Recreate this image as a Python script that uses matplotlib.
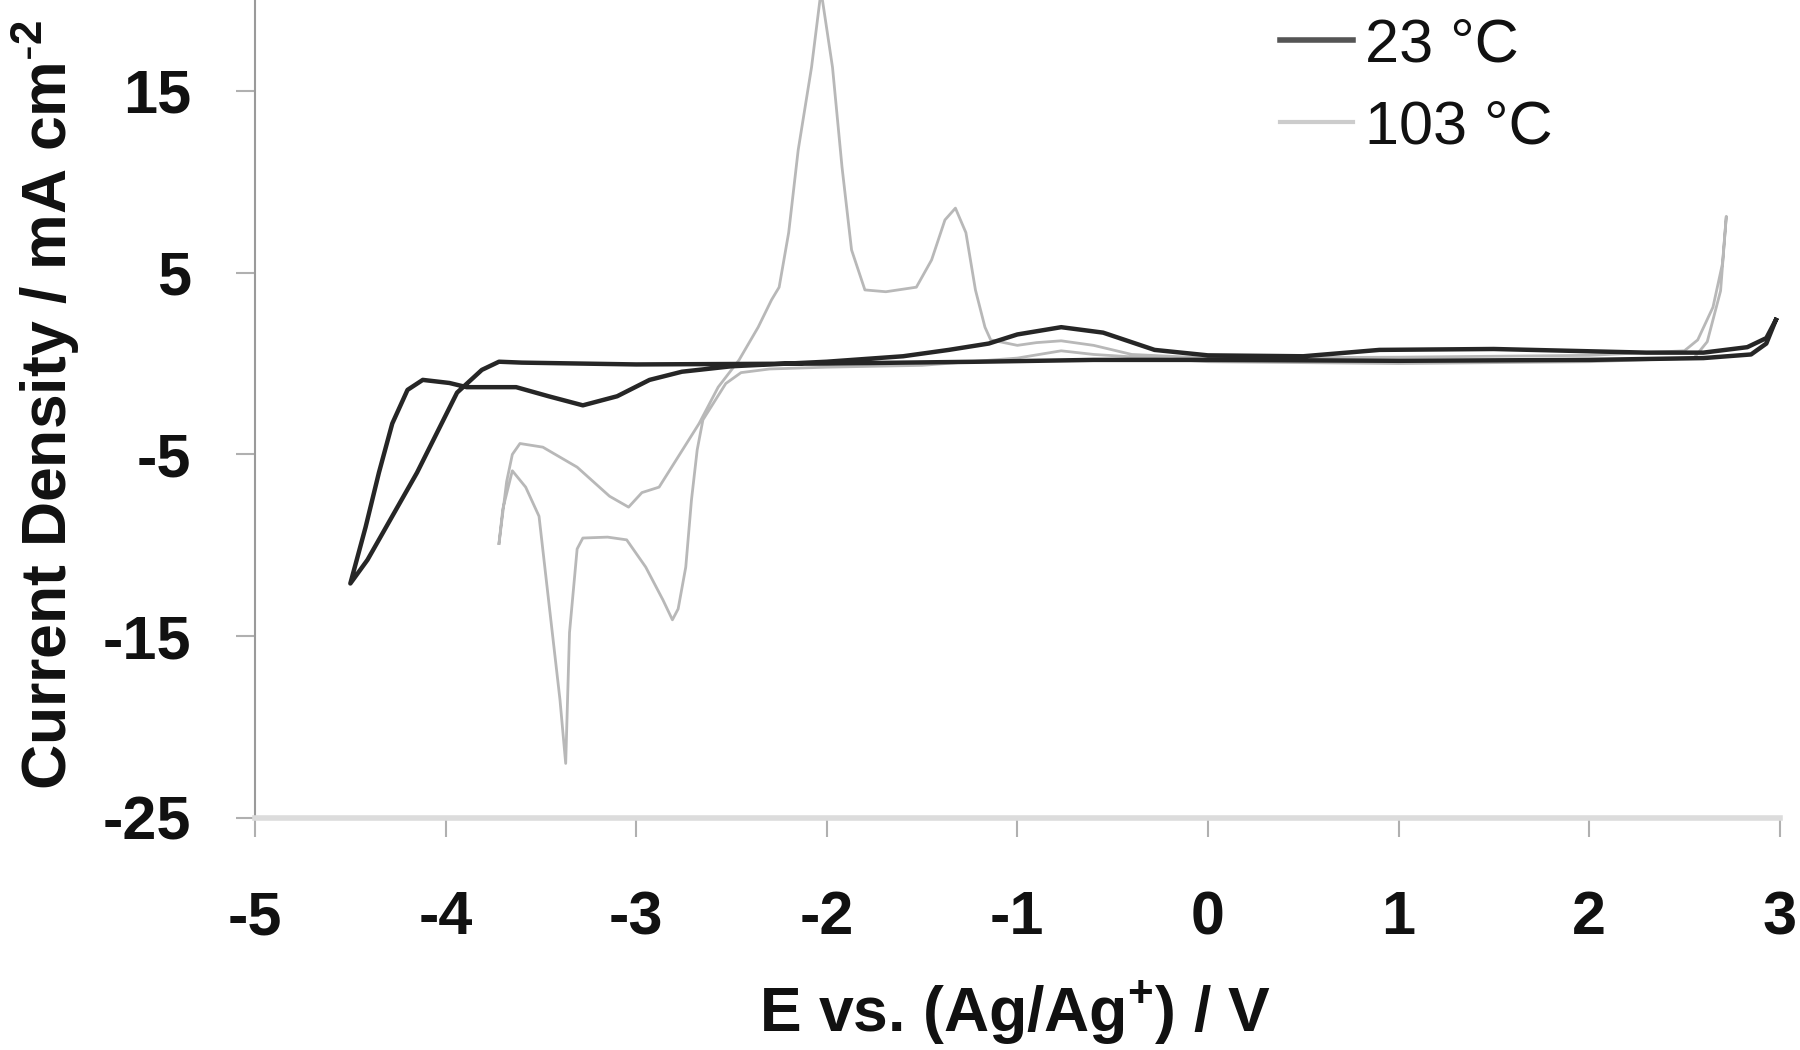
import matplotlib
matplotlib.use('Agg')
import matplotlib.pyplot as plt
import numpy as np

plt.rcParams['font.family'] = ['Liberation Sans', 'DejaVu Sans']
plt.rcParams['mathtext.default'] = 'regular'

# 23 C cyclic voltammogram (E / V, j / mA cm-2)
e_23 = [2.98, 2.93, 2.85, 2.6, 2.0, 1.0, 0.0, -0.6, -1.2, -2.0, -3.0, -3.6,
        -3.72, -3.81, -3.94, -4.15, -4.41, -4.50,
        -4.42, -4.35, -4.28, -4.20, -4.12, -3.98, -3.89, -3.63, -3.46, -3.28,
        -3.10, -2.93, -2.76, -2.50, -2.00, -1.60, -1.36, -1.15, -1.00, -0.77,
        -0.55, -0.28, 0.0, 0.5, 0.9, 1.5, 1.9, 2.3, 2.6, 2.83, 2.93, 2.98]
j_23 = [2.4, 1.1, 0.5, 0.3, 0.2, 0.15, 0.2, 0.2, 0.1, 0.0, -0.05, 0.05,
        0.1, -0.35, -1.6, -6.0, -10.8, -12.1,
        -9.0, -6.0, -3.3, -1.45, -0.9, -1.07, -1.3, -1.3, -1.8, -2.3,
        -1.8, -0.9, -0.45, -0.15, 0.1, 0.4, 0.75, 1.1, 1.6, 2.0,
        1.7, 0.75, 0.45, 0.4, 0.75, 0.8, 0.7, 0.6, 0.6, 0.9, 1.4, 2.4]

# 103 C cyclic voltammogram
e_103 = [-3.72, -3.68, -3.65, -3.61, -3.49, -3.31, -3.14, -3.04, -2.97, -2.88,
         -2.79, -2.67, -2.57, -2.46, -2.36, -2.29, -2.25, -2.20, -2.15, -2.08,
         -2.03, -1.97, -1.92, -1.87, -1.80, -1.69, -1.53, -1.45, -1.38, -1.325,
         -1.27, -1.22, -1.17, -1.14, -1.00, -0.90, -0.77, -0.60, -0.40, 0.0,
         1.0, 2.0, 2.5, 2.57, 2.65, 2.70, 2.72,
         2.69, 2.62, 2.55, 2.0, 1.0, 0.0, -0.60, -0.77, -1.00, -1.50, -2.00,
         -2.30, -2.45, -2.53, -2.65, -2.68, -2.71, -2.74, -2.78, -2.81, -2.86,
         -2.95, -3.05, -3.15, -3.28, -3.31, -3.35, -3.37, -3.40, -3.46, -3.51,
         -3.58, -3.65, -3.70, -3.72]
j_103 = [-9.9, -6.5, -5.0, -4.4, -4.6, -5.7, -7.3, -7.9, -7.1, -6.8,
         -5.3, -3.3, -1.3, 0.2, 2.0, 3.5, 4.2, 7.2, 11.75, 16.3,
         20.5, 16.3, 10.8, 6.25, 4.05, 3.95, 4.2, 5.7, 7.9, 8.55,
         7.2, 4.05, 2.0, 1.3, 1.0, 1.15, 1.25, 1.0, 0.5, 0.3,
         0.35, 0.45, 0.7, 1.3, 3.1, 5.5, 8.1,
         4.0, 1.2, 0.3, 0.1, 0.0, 0.1, 0.5, 0.7, 0.3, -0.1, -0.2,
         -0.3, -0.5, -1.1, -3.1, -4.75, -7.5, -11.2, -13.5, -14.1, -13.0,
         -11.2, -9.7, -9.55, -9.6, -10.2, -14.8, -22.0, -18.5, -13.0, -8.4,
         -6.8, -5.9, -8.0, -9.9]

x_ticks = [-5, -4, -3, -2, -1, 0, 1, 2, 3]
y_ticks = [-25, -15, -5, 5, 15]

fig = plt.figure(figsize=(18, 10.5), dpi=100)
ax = fig.add_axes([0.1417, 0.221, 0.847, 0.779])

ax.plot(e_103, j_103, color='#b8b8b8', lw=2.0, label='103 °C', zorder=2,
        solid_joinstyle='round')
ax.plot(e_23, j_23, color='#262626', lw=3.2, label='23 °C', zorder=3,
        solid_joinstyle='round')

ax.set_xlim(-5, 3)
ax.set_ylim(-25, 20)
ax.set_xticks(x_ticks)
ax.set_yticks(y_ticks)
ax.set_xticklabels([str(t) for t in x_ticks])
ax.set_yticklabels([str(t) for t in y_ticks])

for s in ['top', 'right']:
    ax.spines[s].set_visible(False)
ax.spines['left'].set_color('#9a9a9a')
ax.spines['left'].set_linewidth(1.5)
ax.spines['bottom'].set_color('#dcdcdc')
ax.spines['bottom'].set_linewidth(4)

ax.tick_params(axis='x', direction='out', length=14, width=1.5, color='#b0b0b0',
               pad=38, labelsize=44)
ax.tick_params(axis='y', direction='out', length=14, width=1.5, color='#b0b0b0',
               pad=32, labelsize=44)
for lab in ax.get_xticklabels() + ax.get_yticklabels():
    lab.set_fontweight('bold')
    lab.set_color('#111111')

fig.text(0.0256, 0.614, 'Current Density / mA cm$^{\\text{-}2}$', rotation=90,
         ha='center', va='center', fontsize=45, fontweight='bold', color='#111111')
fig.text(0.564, 0.034, 'E vs. (Ag/Ag$^{+}$) / V', ha='center', va='center',
         fontsize=45, fontweight='bold', color='#111111')

h, l = ax.get_legend_handles_labels()
leg = fig.legend(h[::-1], l[::-1], loc='upper left', bbox_to_anchor=(0.711, 0.983),
                 frameon=False, fontsize=44, handlelength=1.2, handletextpad=0.2,
                 labelspacing=0.4, borderpad=0, borderaxespad=0)
for t in leg.get_texts():
    t.set_color('#111111')
leg.get_lines()[0].set_color('#555555')
leg.get_lines()[0].set_linewidth(4)
leg.get_lines()[1].set_color('#cccccc')
leg.get_lines()[1].set_linewidth(3)

fig.savefig('out.png', dpi=100)
